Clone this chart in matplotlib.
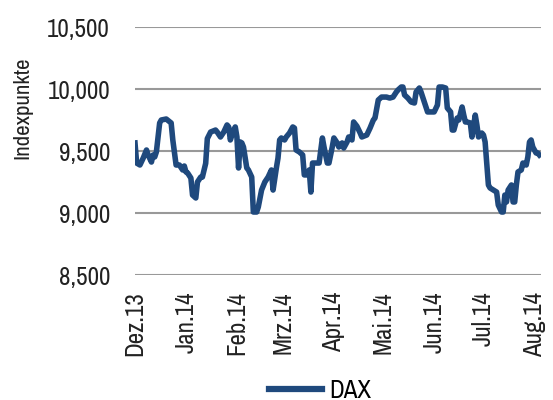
import matplotlib
matplotlib.use("Agg")
import matplotlib.pyplot as plt
import numpy as np
import pandas as pd

plt.rcParams['font.family'] = ['Archivo Narrow', 'DejaVu Sans']

# DAX, Tage seit 01.12.2013 und Indexpunkte
start = pd.Timestamp('2013-12-01')
tage = [0, 1, 3, 5, 7, 8, 10, 11, 12, 13, 15, 16, 19, 22, 23, 25, 27, 29, 30, 31,
        32, 34, 35, 37, 38, 40, 41, 43, 44, 46, 49, 50, 52, 54, 56, 57, 58, 60, 61, 62,
        63, 64, 65, 66, 68, 69, 71, 72, 74, 75, 77, 79, 81, 83, 84, 86, 87, 88, 89, 91,
        92, 94, 96, 97, 98, 100, 102, 103, 105, 106, 107, 108, 111, 112, 114, 115, 117, 118, 120, 121,
        123, 124, 126, 127, 129, 130, 132, 133, 135, 137, 138, 141, 143, 145, 146, 148, 150, 153, 155, 157,
        159, 160, 162, 163, 164, 166, 168, 170, 171, 173, 174, 176, 178, 180, 182, 184, 185, 187, 189, 190,
        192, 193, 194, 196, 197, 199, 200, 201, 202, 204, 205, 207, 208, 209, 211, 212, 213, 215, 216, 218,
        220, 221, 223, 224, 225, 226, 227, 229, 230, 231, 232, 233, 235, 236, 238, 239, 240, 241, 242, 244,
        245, 246]
dax = [9565, 9403, 9387, 9443, 9508, 9468, 9411, 9468, 9452, 9492, 9726, 9750, 9758, 9726, 9589, 9387, 9387, 9347, 9379, 9331,
       9323, 9282, 9145, 9121, 9250, 9290, 9290, 9400, 9600, 9653, 9669, 9653, 9613, 9653, 9710, 9694, 9589, 9669, 9694, 9613,
       9363, 9573, 9565, 9532, 9363, 9347, 9290, 9008, 9008, 9048, 9185, 9250, 9290, 9347, 9185, 9363, 9443, 9589, 9605, 9589,
       9613, 9645, 9694, 9685, 9508, 9492, 9468, 9307, 9307, 9347, 9169, 9403, 9403, 9403, 9605, 9532, 9403, 9403, 9532, 9605,
       9565, 9532, 9565, 9524, 9573, 9613, 9589, 9734, 9700, 9645, 9613, 9629, 9685, 9750, 9766, 9911, 9935, 9935, 9927, 9935,
       9976, 9992, 10016, 10016, 9952, 9927, 9895, 9887, 9976, 10008, 9976, 9895, 9815, 9815, 9815, 9871, 10016, 10016, 10008, 9847,
       9815, 9669, 9669, 9766, 9750, 9855, 9790, 9734, 9734, 9726, 9613, 9790, 9710, 9613, 9645, 9629, 9573, 9226, 9202, 9185,
       9169, 9064, 9008, 9008, 9145, 9089, 9185, 9226, 9089, 9089, 9226, 9331, 9347, 9403, 9387, 9452, 9573, 9589, 9532, 9484,
       9484, 9468]
monate = ['Dez.13', 'Jan.14', 'Feb.14', 'Mrz.14', 'Apr.14', 'Mai.14', 'Jun.14', 'Jul.14', 'Aug.14']

datum = start + pd.to_timedelta(tage, unit='D')
ticks = pd.date_range('2013-12-01', periods=len(monate), freq='MS')

fig = plt.figure(figsize=(5.53, 4.0), dpi=100)
ax = fig.add_axes([135 / 553, 1 - 275 / 400, (541 - 135) / 553, (275 - 27) / 400])

ax.plot(datum, dax, color='#1f497d', lw=4.0, solid_joinstyle='round', label='DAX', zorder=3)

ax.set_ylim(8500, 10500)
ax.set_yticks(np.arange(8500, 10501, 500))
ax.yaxis.set_major_formatter(matplotlib.ticker.FuncFormatter(lambda v, p: f'{v:,.0f}'))
ax.set_xlim(start, start + pd.Timedelta(days=247))
ax.set_xticks(ticks)
ax.set_xticklabels(monate, rotation=90)

ax.grid(axis='y', color='#999999', lw=1.5, zorder=0)
ax.grid(axis='x', visible=False)
for s in ax.spines.values():
    s.set_visible(False)
ax.tick_params(axis='both', length=0, labelsize=18, colors='#222222')
ax.tick_params(axis='y', pad=18)
ax.tick_params(axis='x', pad=12)

fig.text(22 / 553, 1 - 108 / 400, 'Indexpunkte', rotation=90, fontsize=16.5,
         ha='center', va='center', color='#222222')

leg = fig.legend(loc='center', bbox_to_anchor=(320 / 553, 1 - 390 / 400), frameon=False,
                 fontsize=18, handlelength=2.1, handletextpad=0.3)
for l in leg.get_lines():
    l.set_linewidth(4.5)

fig.savefig('out.png', dpi=100)
